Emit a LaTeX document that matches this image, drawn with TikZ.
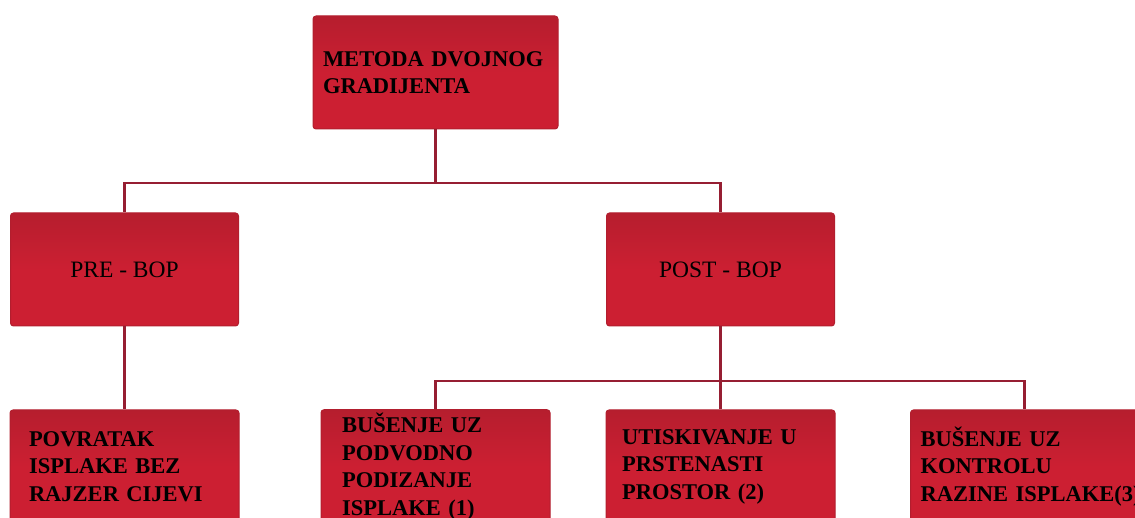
\documentclass[tikz,border=0pt]{standalone}
\usepackage{fontspec}
\setmainfont{Liberation Serif}
\usepackage{tikz}
\usetikzlibrary{
	calc,
	positioning,
	}

\definecolor{boxred}{RGB}{204,31,50}
\definecolor{boxtop}{RGB}{182,30,46}
\definecolor{boxedge}{RGB}{178,30,46}
\definecolor{linered}{RGB}{150,30,50}

\tikzset{
	box/.style={draw=boxedge, top color=boxtop, bottom color=boxred, middle color=boxred,
		line width=1pt, rounded corners=3pt,
		minimum width=228pt, minimum height=113pt, align=left,
		font=\bfseries\fontsize{22.5}{27.5}\selectfont},
	head/.style={box, align=center, font=\fontsize{23.5}{28}\selectfont},
	conn/.style={draw=linered, line width=2.2pt},
}

\begin{document}
\begin{tikzpicture}[x=1pt, y=1pt]
			\useasboundingbox (0,0) rectangle (1135,518);
			\clip (0,0) rectangle (1135,518);
			\node[box, minimum width=245pt, inner xsep=10pt, text width=225pt] (top) at (435.5,445.5) {METODA DVOJNOG\\GRADIJENTA};
			\node[head] (pre) at (124.5,248.5) {PRE - BOP};
			\node[head] (post) at (720.5,248.5) {POST - BOP};
			\node[box, inner xsep=19pt, text width=191pt] (b1) at (124.5,51.5) {POVRATAK\\ISPLAKE BEZ\\RAJZER CIJEVI};
			\node[box, inner xsep=21pt, text width=187pt] (b2) at (435.5,51.5) {BUŠENJE UZ\\PODVODNO\\PODIZANJE\\ISPLAKE (1)};
			\node[box, inner xsep=16pt, text width=197pt] (b3) at (720.5,51.5) {UTISKIVANJE U\\PRSTENASTI\\PROSTOR (2)};
			\node[box, inner xsep=10pt, text width=240pt, anchor=west] (b4) at (910,51.5) {BUŠENJE UZ\\KONTROLU\\RAZINE ISPLAKE(3)};
			\coordinate (fork1) at (435.5,335);
			\coordinate (fork2) at (720.5,137);
			\draw[conn] (top.south) -- (fork1) -| (pre.north);
			\draw[conn] (fork1) -| (post.north);
			\draw[conn] (pre.south) -- (b1.north);
			\draw[conn] (post.south) -- (b3.north);
			\draw[conn] (fork2) -| (b2.north);
			\draw[conn] (fork2) -| ($(b4.north west)+(114.5,0)$);
		\end{tikzpicture}
\end{document}
